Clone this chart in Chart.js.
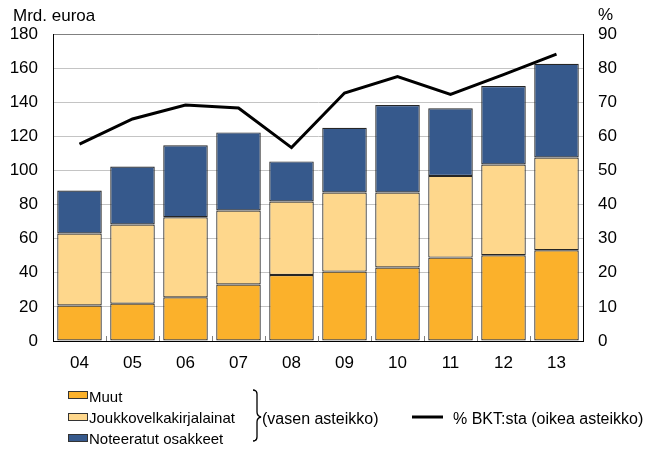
<!DOCTYPE html>
<html>
<head>
<meta charset="utf-8">
<script src="https://cdn.jsdelivr.net/npm/chart.js@4"></script>
<style>
  body { margin: 0; background: #fff; font-family: "Liberation Sans", Arial, sans-serif; color: #000; }
  #wrap { position: relative; width: 669px; height: 451px; }
  #wrap canvas { position: absolute; left: 0; top: 0; }
  .lbl { position: absolute; white-space: nowrap; }
  .unit { font-size: 17px; line-height: 17px; }
  .leg { font-size: 15px; line-height: 15px; }
  .leg2 { font-size: 16px; line-height: 16px; }
  .box { position: absolute; width: 18px; height: 6px; border: 1px solid #333; }
</style>
</head>
<body>
<div id="wrap">
  <canvas id="chart" width="669" height="451"></canvas>
  <div class="lbl unit" style="left:13px;top:7px">Mrd. euroa</div>
  <div class="lbl unit" style="left:598px;top:6px">%</div>

  <div class="box" style="left:68px;top:391px;background:#FBB12B"></div>
  <div class="lbl leg" style="left:89px;top:389px">Muut</div>
  <div class="box" style="left:68px;top:413px;background:#FED78C"></div>
  <div class="lbl leg" style="left:89px;top:410px">Joukkovelkakirjalainat</div>
  <div class="box" style="left:68px;top:434px;background:#36598C"></div>
  <div class="lbl leg" style="left:89px;top:431px">Noteeratut osakkeet</div>

  <svg class="lbl" style="left:0;top:0" width="669" height="451">
    <path d="M253,390 Q257,390 257,394 L257,412 Q257,416 261,417 Q257,418 257,422 L257,437 Q257,441 253,441"
          fill="none" stroke="#000" stroke-width="1.3"/>
    <line x1="412" y1="417" x2="443" y2="417" stroke="#000" stroke-width="3"/>
  </svg>
  <div class="lbl leg2" style="left:262px;top:411px">(vasen asteikko)</div>
  <div class="lbl leg2" style="left:453px;top:411px">% BKT:sta (oikea asteikko)</div>
</div>

<script>
// vuodet 2004-2013
const years = ['04', '05', '06', '07', '08', '09', '10', '11', '12', '13'];

// mrd. euroa
const muut = [20.8, 21.9, 25.6, 33.1, 38.7, 40.7, 43.1, 48.9, 50.3, 53.2];
const joukkovelkakirjat = [42.2, 46.4, 47.0, 43.4, 43.1, 46.4, 44.0, 47.9, 53.2, 54.4];
const osakkeet = [25.2, 34.0, 42.1, 45.8, 23.5, 37.9, 51.2, 39.6, 46.0, 55.0];

// % BKT:sta
const bktOsuus = [57.7, 65.1, 69.2, 68.3, 56.7, 72.7, 77.5, 72.3, 78.1, 84.1];

const tickFont = { family: "'Liberation Sans', Arial, sans-serif", size: 17 };

// small tick marks between the year groups
const categoryTicks = {
    id: 'categoryTicks',
    afterDatasetsDraw(chart) {
        const x = chart.scales.x;
        const bottom = chart.chartArea.bottom;
        const ctx = chart.ctx;
        ctx.save();
        ctx.strokeStyle = '#808080';
        ctx.lineWidth = 1;
        for (let i = 1; i < years.length; i++) {
            const px = Math.round((x.getPixelForValue(i - 1) + x.getPixelForValue(i)) / 2) + 0.5;
            ctx.beginPath();
            ctx.moveTo(px, bottom);
            ctx.lineTo(px, bottom - 5);
            ctx.stroke();
        }
        ctx.restore();
    }
};

const barStyle = {
    type: 'bar',
    yAxisID: 'y',
    borderColor: '#262626',
    borderWidth: 1.2,
    borderSkipped: false,
    barPercentage: 0.84,
    categoryPercentage: 1.0,
    order: 1
};

new Chart(document.getElementById('chart').getContext('2d'), {
    data: {
        labels: years,
        datasets: [
            {
                ...barStyle,
                label: 'Muut',
                data: muut,
                backgroundColor: '#FBB12B'
            },
            {
                ...barStyle,
                label: 'Joukkovelkakirjalainat',
                data: joukkovelkakirjat,
                backgroundColor: '#FED78C'
            },
            {
                ...barStyle,
                label: 'Noteeratut osakkeet',
                data: osakkeet,
                backgroundColor: '#36598C'
            },
            {
                type: 'line',
                label: '% BKT:sta',
                yAxisID: 'y1',
                data: bktOsuus,
                borderColor: '#000000',
                borderWidth: 3,
                pointRadius: 0,
                tension: 0,
                fill: false,
                order: 0
            }
        ]
    },
    options: {
        responsive: false,
        animation: false,
        layout: { padding: { top: 34, left: 0, right: 0, bottom: 0 } },
        plugins: {
            legend: { display: false },
            tooltip: { enabled: false }
        },
        scales: {
            x: {
                stacked: true,
                grid: { drawOnChartArea: false, drawTicks: false },
                border: { color: '#000000', width: 1 },
                ticks: { color: '#000', font: tickFont, padding: 12, maxRotation: 0 },
                afterFit(scale) { scale.height = 110; }
            },
            y: {
                stacked: true,
                position: 'left',
                min: 0,
                max: 180,
                ticks: { stepSize: 20, color: '#000', font: tickFont, padding: 15 },
                grid: {
                    drawTicks: false,
                    color: ctx => ctx.tick && ctx.tick.value === 180 ? '#808080' : '#c4c4c4'
                },
                border: { color: '#000000', width: 1 },
                afterFit(scale) { scale.width = 53; }
            },
            y1: {
                position: 'right',
                min: 0,
                max: 90,
                ticks: { stepSize: 10, color: '#000', font: tickFont, padding: 15 },
                grid: { drawOnChartArea: false, drawTicks: false },
                border: { color: '#000000', width: 1 },
                afterFit(scale) { scale.width = 86; }
            }
        }
    },
    plugins: [categoryTicks]
});
</script>
</body>
</html>
